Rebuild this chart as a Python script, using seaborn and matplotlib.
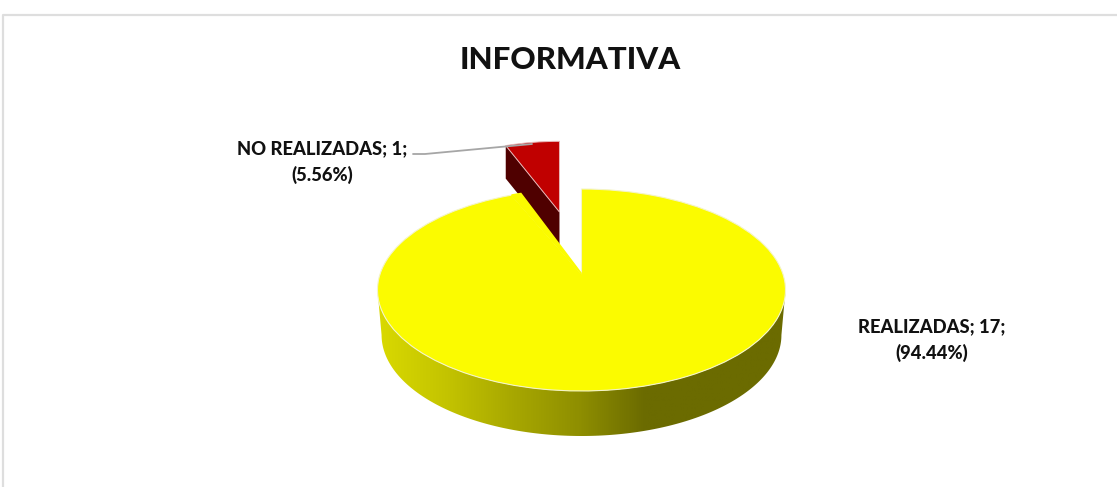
import numpy as np
import matplotlib
matplotlib.use('Agg')
import matplotlib.pyplot as plt
import seaborn as sns
from matplotlib.lines import Line2D
from matplotlib.patches import PathPatch, Polygon
from matplotlib.path import Path
from matplotlib.transforms import Affine2D

categories = ['REALIZADAS', 'NO REALIZADAS']
counts = [17, 1]
pie_colors = ['#FBFB00', '#C00000']
title = 'INFORMATIVA'

sns.set_theme(style='white')
plt.rcParams['font.family'] = ['Lato', 'DejaVu Sans']

W, H = 1117, 487
fig = plt.figure(figsize=(W / 100, H / 100), dpi=100, facecolor='white')
ax = fig.add_axes([0, 0, 1, 1])

# pie centre and radii on the canvas, in pixels
cx, cy, rx, ry = 581.5, 290, 204, 101


def to_px(x, y):
    return x / W, 1 - y / H


wedges, _ = ax.pie(counts, colors=pie_colors, startangle=90, counterclock=False,
                   explode=[0, 0.78], wedgeprops={'edgecolor': 'none'})
ax.set_aspect('auto')

# Yellow slice: apex pulled up like the perspective of the original
yellow = wedges[0]
path = yellow.get_path()
verts = path.vertices.copy()
apex = [0, 0.16]
verts[np.hypot(verts[:, 0], verts[:, 1]) < 1e-6] = apex
yellow.set_visible(False)
ax.add_patch(PathPatch(Path(verts, path.codes), facecolor=pie_colors[0],
                       edgecolor='#F4F4C8', lw=0.8, zorder=4))

# perspective narrows the gap at the back a little, fill the sliver
back = np.deg2rad(np.linspace(yellow.theta1 + 360, yellow.theta1 + 360 - 2.7, 6))
sliver = np.vstack([np.column_stack([np.cos(back), np.sin(back)]), apex])
ax.add_patch(Polygon(sliver, closed=True, facecolor=pie_colors[0],
                     edgecolor=pie_colors[0], lw=1.2, zorder=5))

# Yellow rim with the dark gradient, from the lower half of the ellipse
t = np.linspace(np.pi, 2 * np.pi, 200)
top_x, top_y = np.cos(t), np.sin(t)
low_x, low_y = 0.98 * np.cos(t), np.sin(t) - 45 / ry
rim = np.column_stack([np.r_[top_x, low_x[::-1]], np.r_[top_y, low_y[::-1]]])
rim_patch = Polygon(rim, closed=True, facecolor='none', edgecolor='none',
                    transform=ax.transData)
ax.add_patch(rim_patch)
shade = sns.blend_palette(['#D9D900', '#C4C400', '#A8A800', '#8F8F00', '#6B6B00'], as_cmap=True)
xs = np.linspace(-1, 1, 400)
ramp = np.clip((xs + 1) / 1.31, 0, 1)[None, :]
img = ax.imshow(ramp, cmap=shade, extent=(-1, 1, -2, 1), aspect='auto', zorder=2)
img.set_clip_path(rim_patch)
ax.set_xlim(-cx / rx, (W - cx) / rx)
ax.set_ylim((cy - H) / ry, cy / ry)

# Red slice is smaller, it sits further away
red = wedges[1]
rcx, rcy = red.center
apex_x, apex_y = -0.108, 0.772
sx, sy = 0.77, 0.70
red.set_transform(Affine2D().translate(-rcx, -rcy).scale(sx, sy)
                  .translate(apex_x, apex_y) + ax.transData)
red.set_zorder(3)
red.set_edgecolor('#E8B8B8')
red.set_linewidth(0.7)

# Dark cut face of the red slice
theta = np.deg2rad(red.theta2)
left_x = apex_x + sx * np.cos(theta)
left_y = apex_y + sy * np.sin(theta)
depth = 33 / ry
ax.add_patch(Polygon([(left_x, left_y), (apex_x, apex_y), (apex_x, apex_y - depth),
                      (left_x, left_y - depth)], closed=True, facecolor='#4F0000',
                     edgecolor='none', zorder=1))

# Chart frame, only the left and top sides show
frame = dict(color='#DEDEDE', lw=1.6, transform=fig.transFigure)
fig.add_artist(Line2D(*zip(to_px(3, H), to_px(3, 14.5), to_px(W, 14.5)), **frame))

# Leader line of the small slice
fig.add_artist(Line2D(*zip(to_px(413, 154), to_px(425, 154), to_px(532, 144)),
                      color='#A6A6A6', lw=1.3, transform=fig.transFigure, zorder=6))

total = sum(counts)
label_pos = [(931.5, 340), (322, 162)]
for cat, val, (lx, ly) in zip(categories, counts, label_pos):
    x, y = to_px(lx, ly)
    fig.text(x, y, f'{cat}; {val};\n({val / total * 100:.2f}%)', ha='center', va='center',
             fontsize=13.2, fontweight=900, color='#111111', linespacing=1.55)

x, y = to_px(570, 60)
fig.text(x, y, title, ha='center', va='center', fontsize=22.5, fontweight=900, color='#111111')

ax.axis('off')
fig.savefig('out.png', dpi=100, facecolor='white')
